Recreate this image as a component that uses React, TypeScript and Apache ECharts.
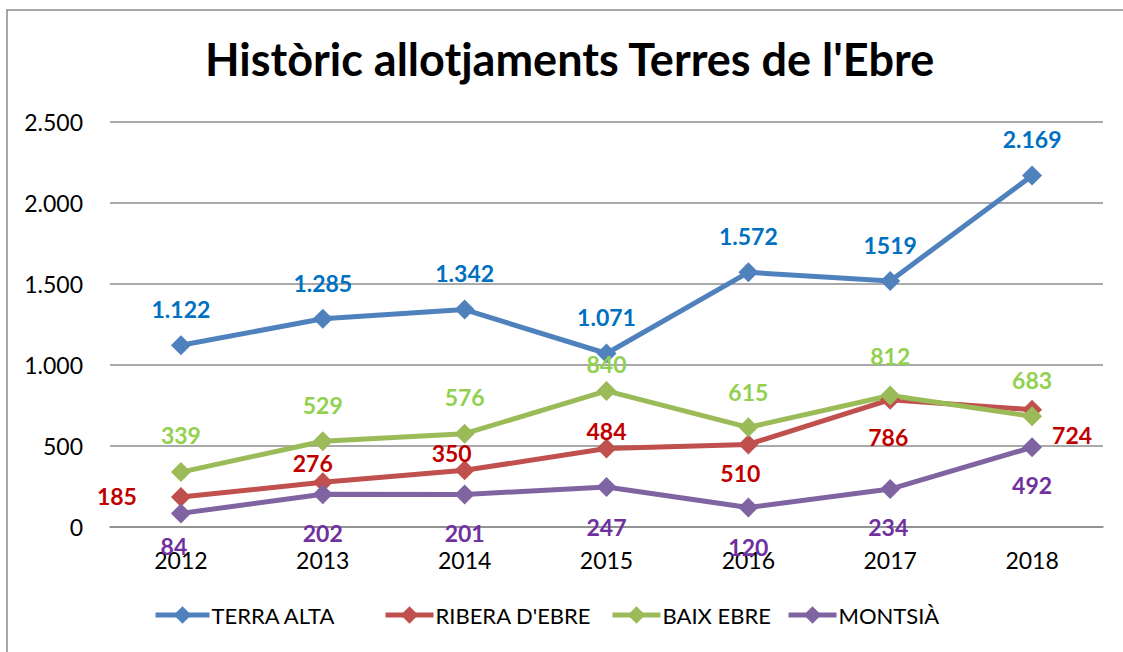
import React, { useEffect, useRef } from "react";
import * as echarts from "echarts";

const YEARS = ["2012", "2013", "2014", "2015", "2016", "2017", "2018"];
const TERRA_ALTA = [1122, 1285, 1342, 1071, 1572, 1519, 2169];
const TERRA_ALTA_LABELS = ["1.122", "1.285", "1.342", "1.071", "1.572", "1519", "2.169"];
const RIBERA_EBRE = [185, 276, 350, 484, 510, 786, 724];
const BAIX_EBRE = [339, 529, 576, 840, 615, 812, 683];
const MONTSIA = [84, 202, 201, 247, 120, 234, 492];
const SERIES_NAMES = ["TERRA ALTA", "RIBERA D'EBRE", "BAIX EBRE", "MONTSIÀ"];
const TITLE = "Històric allotjaments Terres de l'Ebre";

// label placement (pixel offsets from the point), kept apart from data
const OFF_TA = [[0, -36], [0, -36], [0, -37], [0, -36], [0, -36], [0, -36], [0, -37]];
const OFF_RE = [[-64, -1], [-10, -19], [-13, -17], [0, -18], [-8, 29], [-2, 37], [40, 25]];
const OFF_BE = [[0, -37], [0, -36], [0, -37], [0, -27], [0, -35], [0, -39], [0, -36]];
const OFF_MO = [[-7, 33], [0, 39], [0, 39], [0, 40], [0, 39], [-2, 38], [0, 38]];
// legend item left edges
const LEGEND_LEFT = [148, 378, 605, 781];

const FONT = "Lato, 'Noto Sans', sans-serif";

function fmt(v: number): string {
  return String(v).replace(/\B(?=(\d{3})+(?!\d))/g, ".");
}

function makeSeries(
  name: string,
  values: number[],
  lineColor: string,
  labelColor: string,
  offsets: number[][],
  labels?: string[]
) {
  return {
    name,
    type: "line",
    data: values.map((v, i) => ({
      value: v,
      label: {
        show: true,
        position: "inside",
        offset: offsets[i],
        formatter: labels ? labels[i] : String(v),
      },
    })),
    symbol: "diamond",
    symbolSize: 20,
    showAllSymbol: true,
    lineStyle: { color: lineColor, width: 5 },
    itemStyle: { color: lineColor },
    label: {
      show: true,
      color: labelColor,
      fontFamily: FONT,
      fontWeight: "bold",
      fontSize: 23,
    },
    emphasis: { disabled: true },
  };
}

export default function App() {
  const ref = useRef<HTMLDivElement>(null);
  useEffect(() => {
    if (!ref.current) return;
    const chart = echarts.init(ref.current, undefined, { renderer: "svg" });
    chart.setOption({
      animation: false,
      backgroundColor: "#ffffff",
      title: {
        text: TITLE,
        left: 205,
        top: 36,
        padding: 0,
        textStyle: {
          fontFamily: FONT,
          fontWeight: "bold",
          fontSize: 45,
          color: "#000000",
        },
      },
      graphic: [
        {
          type: "rect",
          shape: { x: 7, y: 10, width: 1200, height: 700 },
          style: { fill: "none", stroke: "#8c8c8c", lineWidth: 1.5 },
          silent: true,
        },
      ],
      legend: SERIES_NAMES.map((n, i) => ({
        data: [n],
        left: LEGEND_LEFT[i],
        top: 599,
        itemWidth: i === 0 ? 54 : 48,
        itemHeight: 22,
        lineStyle: { width: 5 },
        textStyle: { fontFamily: FONT, fontSize: 22, color: "#000000", padding: [0, 0, 0, -3] },
      })),
      grid: {
        left: 110,
        right: 20,
        top: 122,
        bottom: 125,
        containLabel: false,
        outerBoundsMode: "none",
      },
      xAxis: {
        type: "category",
        data: YEARS,
        boundaryGap: true,
        axisLine: { show: true, lineStyle: { color: "#8c8c8c", width: 1.5 } },
        axisTick: { show: false },
        axisLabel: { fontFamily: FONT, fontSize: 23, color: "#000000", margin: 21 },
      },
      yAxis: {
        type: "value",
        min: 0,
        max: 2500,
        interval: 500,
        axisLine: { show: false },
        axisTick: { show: false },
        splitLine: { lineStyle: { color: "#8c8c8c", width: 1.5 } },
        axisLabel: {
          fontFamily: FONT,
          fontSize: 23,
          color: "#000000",
          margin: 27,
          formatter: (v: number) => fmt(v),
        },
      },
      series: [
        makeSeries(SERIES_NAMES[1], RIBERA_EBRE, "#C0504D", "#C00000", OFF_RE),
        makeSeries(SERIES_NAMES[2], BAIX_EBRE, "#9BBB59", "#92D050", OFF_BE),
        makeSeries(SERIES_NAMES[3], MONTSIA, "#8064A2", "#7030A0", OFF_MO),
        makeSeries(SERIES_NAMES[0], TERRA_ALTA, "#4F81BD", "#0070C0", OFF_TA, TERRA_ALTA_LABELS),
      ],
    });
    return () => chart.dispose();
  }, []);
  return (
    <div
      ref={ref}
      style={{ position: "fixed", left: 0, top: 0, width: 1123, height: 652 }}
    />
  );
}
